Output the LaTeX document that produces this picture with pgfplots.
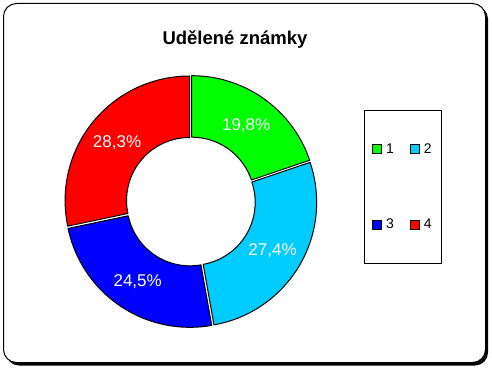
\documentclass[border=0pt]{standalone}
\usepackage{fontspec}
\setmainfont{Liberation Sans}
\usepackage{pgfplots}
\pgfplotsset{compat=1.18}
\definecolor{sgreen}{HTML}{00FF00}
\definecolor{scyan}{HTML}{00CCFF}
\definecolor{sblue}{HTML}{0000FF}
\definecolor{sred}{HTML}{FF0000}
\def\cx{190.8}
\def\cy{168.5}
\def\Rout{124.5}
\def\Rin{63}
\def\ex{1.6}
% #1 cumulative start (%), #2 value (%), #3 colour
\newcommand{\slice}[3]{%
 \addplot[fill=#3, draw=black, line width=1pt, line join=round,
   samples at={0,1,...,40,60,61,...,100}, variable=\t]
 ({\cx+\ex*cos(90-3.6*(#1+#2/2)) + ((\t<50)?\Rout:\Rin)*cos((\t<50)?(90-3.6*(#1+#2*\t/40)):(90-3.6*(#1+#2*(100-\t)/40)))},
  {\cy+\ex*sin(90-3.6*(#1+#2/2)) + ((\t<50)?\Rout:\Rin)*sin((\t<50)?(90-3.6*(#1+#2*\t/40)):(90-3.6*(#1+#2*(100-\t)/40)))}) -- cycle;
}
\newcommand{\plabel}[3]{%
 \node[white, font=\fontsize{17}{17}\selectfont, anchor=base, inner sep=0pt]
  at (axis cs:{\cx+95*cos(90-3.6*(#1+#2/2))},{\cy+95*sin(90-3.6*(#1+#2/2))-6.1}) {#3};
}
\begin{document}
\begin{tikzpicture}
\path (0,0) rectangle (492pt,370pt);
% frame with shadow
\fill[black, rounded corners=13pt] (6pt,4.5pt) rectangle (488pt,364pt);
\filldraw[fill=white, draw=black, line width=1pt, rounded corners=13pt] (3.5pt,7.5pt) rectangle (485.5pt,366.5pt);
\begin{axis}[
  at={(0,0)}, anchor=south west,
  scale only axis, width=492pt, height=370pt,
  xmin=0, xmax=492, ymin=0, ymax=370,
  hide axis, clip=false,
  legend image code/.code={\draw[#1, line width=0.8pt] (0pt,-4.5pt) rectangle (9pt,4.5pt); \path (11pt,0pt);},
  legend style={at={(axis cs:403,183.2)}, anchor=center, draw=black, line width=0.8pt,
    fill=white, font=\fontsize{14}{14}\selectfont, legend columns=2,
    inner xsep=8pt, inner ysep=31pt, row sep=60pt,
    /tikz/every even column/.append style={column sep=14pt}},
  legend cell align=left,
]
\slice{0}{19.8}{sgreen}
\addlegendentry{1}
\slice{19.8}{27.4}{scyan}
\addlegendentry{2}
\slice{47.2}{24.5}{sblue}
\addlegendentry{3}
\slice{71.7}{28.3}{sred}
\addlegendentry{4}
\plabel{0}{19.8}{19,8\%}
\plabel{19.8}{27.4}{27,4\%}
\plabel{47.2}{24.5}{24,5\%}
\plabel{71.7}{28.3}{28,3\%}
\node[font=\bfseries\fontsize{18.5}{18.5}\selectfont, anchor=base, inner sep=0pt] at (axis cs:235,325) {Udělené známky};
\end{axis}
\end{tikzpicture}
\end{document}
